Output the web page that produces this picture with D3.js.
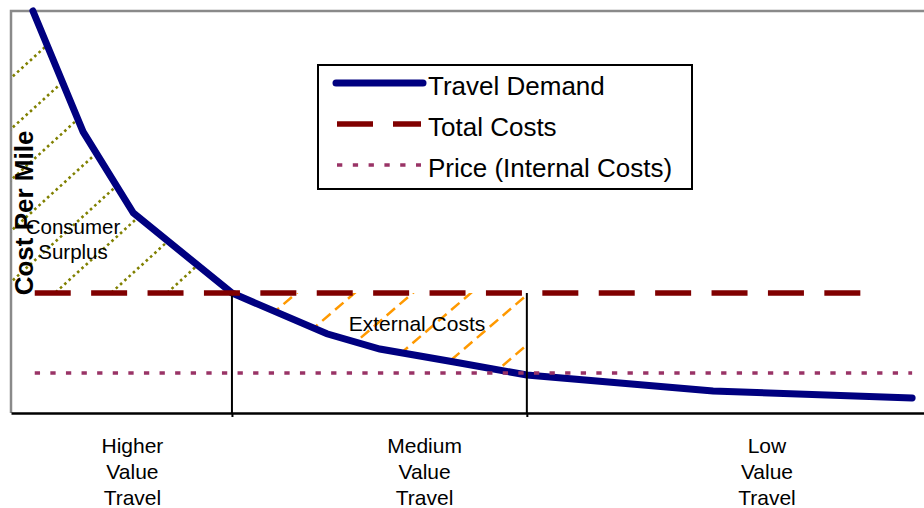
<!DOCTYPE html>
<html>
<head>
<meta charset="utf-8">
<script src="https://cdn.jsdelivr.net/npm/d3@7"></script>
<style>
  body { margin: 0; background: #fff; }
  text { font-family: "Liberation Sans", Arial, sans-serif; }
</style>
</head>
<body>
<div id="chart"></div>
<script>
// demand curve (x: share of travel 0-100, y: cost per mile)
const demandX = [2.4, 7.9, 13.4, 24.2, 34.6, 40.4, 48.4, 56.5, 76.9, 98.7]
const demandY = [10.05, 7.03, 5.0, 3.0, 1.98, 1.6, 1.28, 0.95, 0.55, 0.375]

const totalCost = 3
const totalSpan = [2.6, 93.1]
const price = 1
const priceSpan = [2.6, 98.7]

// boundaries between the three travel groups
const bandEdges = [24.2, 56.5]
const categories = [["Higher", "Value", "Travel"], ["Medium", "Value", "Travel"], ["Low", "Value", "Travel"]]
const categoryX = [13.3, 45.3, 82.8]

const legendLabels = ["Travel Demand", "Total Costs", "Price (Internal Costs)"]

const W = 924, H = 508
const PLOT = { LEFT: 11, RIGHT: 924, TOP: 11, BOTTOM: 413 }

const svg = d3.select("#chart").append("svg")
    .attr("width", W)
    .attr("height", H)

const x = d3.scaleLinear().domain([0, 100]).range([PLOT.LEFT, PLOT.RIGHT])
const y = d3.scaleLinear().domain([0, 10.05]).range([PLOT.BOTTOM, PLOT.TOP])

const demand = demandX.map((d, i) => [d, demandY[i]])
const line = d3.line().x(d => x(d[0])).y(d => y(d[1]))

// frame (top and left, gray)
svg.append("path")
    .attr("d", `M${PLOT.LEFT},${PLOT.BOTTOM}V${PLOT.TOP}H${PLOT.RIGHT}`)
    .attr("fill", "none")
    .attr("stroke", "#8a8a8a")
    .attr("stroke-width", 2.5)

// hatching regions
const defs = svg.append("defs")
const surplusPoly = [[x(0), y(10.05)]]
    .concat(demand.filter(d => d[0] <= bandEdges[0]).map(d => [x(d[0]), y(d[1])]))
    .concat([[x(0), y(totalCost)]])
const externalPoly = demand.filter(d => d[0] >= bandEdges[0] && d[0] <= bandEdges[1]).map(d => [x(d[0]), y(d[1])])
    .concat([[x(bandEdges[1]), y(totalCost)], [x(bandEdges[0]), y(totalCost)]])

defs.append("clipPath").attr("id", "clip-surplus")
  .append("polygon").attr("points", surplusPoly.join(" "))
defs.append("clipPath").attr("id", "clip-external")
  .append("polygon").attr("points", externalPoly.join(" "))

function hatch(clipId, start, step, count, k, color, dash, width) {
  const g = svg.append("g").attr("clip-path", `url(#${clipId})`)
  for (let i = 0; i < count; i++) {
    const c = start + i * step
    g.append("line")
        .attr("x1", 0).attr("y1", c)
        .attr("x2", W).attr("y2", c - k * W)
        .attr("stroke", color)
        .attr("stroke-width", width)
        .attr("stroke-dasharray", dash)
  }
}
hatch("clip-surplus", 88, 51, 8, 0.91, "#808000", "2.6,3.2", 2.6)
hatch("clip-external", 548, 50, 6, 0.86, "#ff9900", "11,6", 2.5)

// x axis
const xAxis = d3.axisBottom(x)
    .tickValues(bandEdges)
    .tickSize(4)
    .tickSizeOuter(0)
    .tickFormat("")
const axisG = svg.append("g")
    .attr("transform", `translate(0, ${PLOT.BOTTOM})`)
    .call(xAxis)
axisG.select(".domain").attr("stroke", "#000").attr("stroke-width", 2.5)
axisG.selectAll(".tick line").attr("stroke", "#000").attr("stroke-width", 2)

// demand curve
svg.append("path")
    .datum(demand)
    .attr("d", line)
    .attr("fill", "none")
    .attr("stroke", "#000080")
    .attr("stroke-width", 7)
    .attr("stroke-linecap", "round")

// vertical band edges
svg.selectAll(".edge")
  .data(bandEdges)
  .enter().append("line")
    .attr("class", "edge")
    .attr("x1", d => x(d)).attr("x2", d => x(d))
    .attr("y1", y(totalCost)).attr("y2", PLOT.BOTTOM)
    .attr("stroke", "#000")
    .attr("stroke-width", 2)

// total costs
svg.append("line")
    .attr("x1", x(totalSpan[0])).attr("x2", x(totalSpan[1]))
    .attr("y1", y(totalCost)).attr("y2", y(totalCost))
    .attr("stroke", "#800000")
    .attr("stroke-width", 5.5)
    .attr("stroke-dasharray", "36,20.4")

// price
svg.append("line")
    .attr("x1", x(priceSpan[0])).attr("x2", x(priceSpan[1]))
    .attr("y1", y(price)).attr("y2", y(price))
    .attr("stroke", "#993366")
    .attr("stroke-width", 3.5)
    .attr("stroke-dasharray", "5.3,10.3")

// y label
svg.append("text")
    .attr("transform", `translate(33, 213) rotate(-90)`)
    .attr("text-anchor", "middle")
    .style("font-size", "26px")
    .style("font-weight", "bold")
    .text("Cost Per Mile")

// area labels
const surplus = svg.append("text")
    .attr("text-anchor", "middle")
    .style("font-size", "20.5px")
surplus.append("tspan").attr("x", 73).attr("y", 234).text("Consumer")
surplus.append("tspan").attr("x", 73).attr("y", 259).text("Surplus")

svg.append("text")
    .attr("x", 417)
    .attr("y", 331)
    .attr("text-anchor", "middle")
    .style("font-size", "21px")
    .text("External Costs")

// category labels
categories.forEach((lines, i) => {
  const t = svg.append("text")
      .attr("text-anchor", "middle")
      .style("font-size", "21px")
  lines.forEach((s, j) => {
    t.append("tspan")
        .attr("x", x(categoryX[i]))
        .attr("y", 453 + j * 26)
        .text(s)
  })
})

// legend
const legend = svg.append("g").attr("transform", "translate(318, 65)")
legend.append("rect")
    .attr("width", 374).attr("height", 124)
    .attr("fill", "#fff")
    .attr("stroke", "#000")
    .attr("stroke-width", 2)

const legendStyles = [
  { color: "#000080", width: 7, dash: null, cap: "round", x1: 18, x2: 105 },
  { color: "#800000", width: 5.5, dash: "36,20", cap: "butt", x1: 19, x2: 103 },
  { color: "#993366", width: 3.5, dash: "5.3,10.5", cap: "butt", x1: 19, x2: 103 }
]
legendLabels.forEach((label, i) => {
  const s = legendStyles[i]
  const cy = 18 + i * 41
  legend.append("line")
      .attr("x1", s.x1).attr("x2", s.x2)
      .attr("y1", cy).attr("y2", cy)
      .attr("stroke", s.color)
      .attr("stroke-width", s.width)
      .attr("stroke-linecap", s.cap)
      .attr("stroke-dasharray", s.dash)
  legend.append("text")
      .attr("x", 110)
      .attr("y", cy + 12)
      .style("font-size", "26px")
      .text(label)
})
</script>
</body>
</html>
